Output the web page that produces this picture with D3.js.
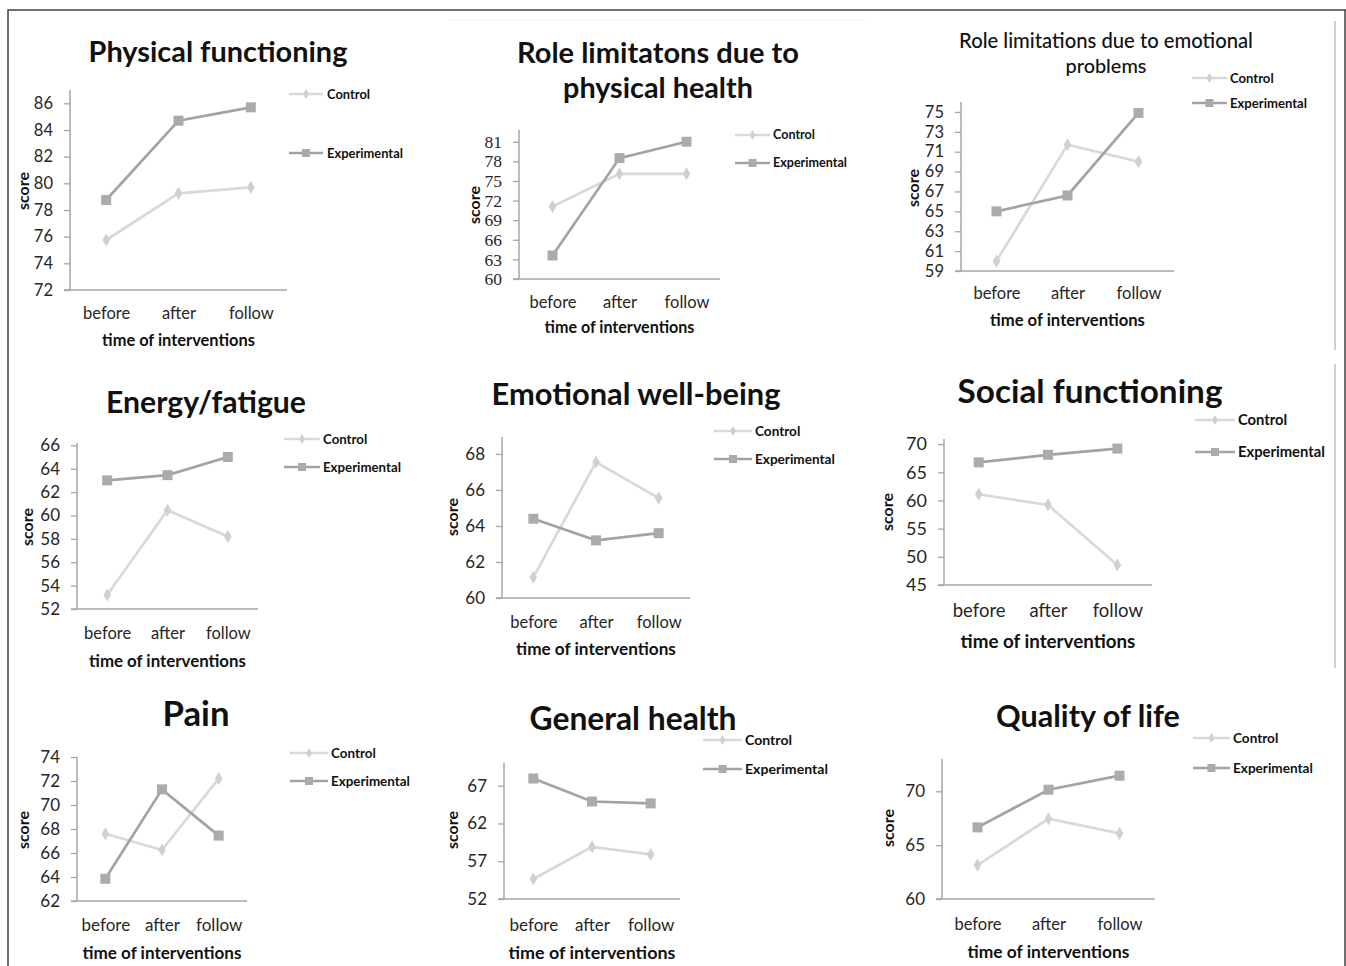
<!DOCTYPE html>
<html><head><meta charset="utf-8">
<script src="https://cdn.jsdelivr.net/npm/d3@7"></script>
<style>body{margin:0;background:#fff}svg{display:block}</style>
</head><body>
<svg id="c" width="1346" height="966"></svg>
<script>
// ---------------- DATA ----------------
const categories = ["before", "after", "follow"];
const seriesNames = ["Control", "Experimental"];
const xAxisTitle = "time of interventions";
const yAxisTitle = "score";

const controlPF = [75.75, 79.25, 79.7];
const expPF     = [78.75, 84.7, 85.7];
const controlRP = [71.1, 76.1, 76.1];
const expRP     = [63.6, 78.5, 81.0];
const controlRE = [60.0, 71.7, 70.0];
const expRE     = [65.0, 66.6, 74.9];
const controlEF = [53.2, 60.45, 58.2];
const expEF     = [63.0, 63.45, 65.0];
const controlEW = [61.15, 67.55, 65.55];
const expEW     = [64.4, 63.2, 63.6];
const controlSF = [61.1, 59.2, 48.55];
const expSF     = [66.75, 68.1, 69.2];
const controlPN = [67.6, 66.25, 72.2];
const expPN     = [63.85, 71.3, 67.45];
const controlGH = [54.65, 58.9, 57.9];
const expGH     = [67.95, 64.9, 64.65];
const controlQL = [63.15, 67.45, 66.1];
const expQL     = [66.65, 70.15, 71.45];

const ticksPF = [72, 74, 76, 78, 80, 82, 84, 86];
const ticksRP = [60, 63, 66, 69, 72, 75, 78, 81];
const ticksRE = [59, 61, 63, 65, 67, 69, 71, 73, 75];
const ticksEF = [52, 54, 56, 58, 60, 62, 64, 66];
const ticksEW = [60, 62, 64, 66, 68];
const ticksSF = [45, 50, 55, 60, 65, 70];
const ticksPN = [62, 64, 66, 68, 70, 72, 74];
const ticksGH = [52, 57, 62, 67];
const ticksQL = [60, 65, 70];

const titlePF = ["Physical functioning"];
const titleRP = ["Role limitatons due to", "physical health"];
const titleRE = ["Role limitations due to emotional", "problems"];
const titleEF = ["Energy/fatigue"];
const titleEW = ["Emotional well-being"];
const titleSF = ["Social functioning"];
const titlePN = ["Pain"];
const titleGH = ["General health"];
const titleQL = ["Quality of life"];

// ---------------- LAYOUT ----------------
const SANS = "Lato, 'Open Sans', sans-serif";
const SERIF = "'Liberation Serif', 'DejaVu Serif', serif";
const panels = [
  {title:titlePF, tx:218, ty:[62], tw:[259], tWeight:700, ctrl:controlPF, exp:expPF, ticks:ticksPF, domain:[72,87],
   x0:70, x1:287, yT:90, yB:290, tickFs:16.5, tickFont:SANS, catY:313, catFs:16.5, axY:340, axW:153, score:[23,191],
   leg:{x0:289, x1:323, yc:94, ye:153, tx:327, w:76}},
  {title:titleRP, tx:658, ty:[63,98], tw:[282,190], tWeight:700, ctrl:controlRP, exp:expRP, ticks:ticksRP, domain:[60,82.8],
   x0:519, x1:720, yT:130, yB:279, tickFs:17.5, tickFont:SERIF, catY:302, catFs:16.5, axY:327, axW:150, score:[474,205],
   leg:{x0:735, x1:770, yc:135, ye:163, tx:773, w:74}},
  {title:titleRE, tx:1106, ty:[48,73], tw:[294,81], tWeight:500, ctrl:controlRE, exp:expRE, ticks:ticksRE, domain:[59,76],
   x0:961, x1:1174, yT:102, yB:271, tickFs:16.5, tickFont:SANS, catY:293, catFs:16.5, axY:320, axW:155, score:[913,188],
   leg:{x0:1192, x1:1227, yc:78, ye:103, tx:1230, w:77}},
  {title:titleEF, tx:206, ty:[413], tw:[200], tWeight:700, ctrl:controlEF, exp:expEF, ticks:ticksEF, domain:[52,66.2],
   x0:77, x1:258, yT:443, yB:609, tickFs:17, tickFont:SANS, catY:633, catFs:16.5, axY:661, axW:157, score:[27,527],
   leg:{x0:284, x1:320, yc:439, ye:467, tx:323, w:78}},
  {title:titleEW, tx:636, ty:[405], tw:[289], tWeight:700, ctrl:controlEW, exp:expEW, ticks:ticksEW, domain:[60,68.94],
   x0:502, x1:690, yT:437, yB:598, tickFs:17, tickFont:SANS, catY:622, catFs:16.5, axY:649, axW:160, score:[452,517],
   leg:{x0:714, x1:752, yc:431, ye:459, tx:755, w:80}},
  {title:titleSF, tx:1090, ty:[403], tw:[265], tWeight:700, ctrl:controlSF, exp:expSF, ticks:ticksSF, domain:[45,70.9],
   x0:944, x1:1152, yT:439, yB:585, tickFs:18, tickFont:SANS, catY:611, catFs:18.5, axY:641, axW:175, score:[887,512],
   leg:{x0:1195, x1:1235, yc:420, ye:452, tx:1238, w:87}},
  {title:titlePN, tx:196, ty:[726], tw:[67], tWeight:700, ctrl:controlPN, exp:expPN, ticks:ticksPN, domain:[62,74],
   x0:77, x1:247, yT:757, yB:901, tickFs:17, tickFont:SANS, catY:925, catFs:17, axY:953, axW:159, score:[23,830],
   leg:{x0:290, x1:328, yc:753, ye:781, tx:331, w:79}},
  {title:titleGH, tx:633, ty:[730], tw:[207], tWeight:700, ctrl:controlGH, exp:expGH, ticks:ticksGH, domain:[52,70],
   x0:504, x1:680, yT:763, yB:899, tickFs:17, tickFont:SANS, catY:925, catFs:17, axY:953, axW:167, score:[452,830],
   leg:{x0:703, x1:742, yc:740, ye:769, tx:745, w:83}},
  {title:titleQL, tx:1088, ty:[727], tw:[184], tWeight:700, ctrl:controlQL, exp:expQL, ticks:ticksQL, domain:[60,73],
   x0:942, x1:1155, yT:759, yB:899, tickFs:17, tickFont:SANS, catY:924, catFs:16.5, axY:952, axW:162, score:[888,828],
   leg:{x0:1193, x1:1230, yc:738, ye:768, tx:1233, w:80}}
];

const COL_CTRL = "#d9d9d9", COL_CTRL_M = "#d0d0d0";
const COL_EXP = "#a3a3a3", COL_EXP_M = "#ababab";
const AXIS_COL = "#a6a6a6";
const LABEL_COL = "#262626";

const svg = d3.select("#c");

function fit(sel, target, base) {
  const len = sel.node().getComputedTextLength();
  if (len > 0) sel.attr("font-size", base * target / len);
}

// outer frame
const frame = svg.append("g").attr("stroke", "#404040").attr("stroke-width", 1.5).attr("fill", "none");
frame.append("path").attr("d", "M8,966 V10 H1346");
frame.append("line").attr("x1", 1345).attr("x2", 1345).attr("y1", 10).attr("y2", 966);
const pl = svg.append("g").attr("stroke", "#b0b0b0").attr("stroke-width", 1.2);
pl.append("line").attr("x1", 1335).attr("x2", 1335).attr("y1", 21).attr("y2", 350);
pl.append("line").attr("x1", 1335).attr("x2", 1335).attr("y1", 364).attr("y2", 668);
svg.append("line").attr("x1", 450).attr("x2", 865).attr("y1", 20).attr("y2", 20).attr("stroke", "#f0f0f0");

const diamond = d3.symbol().type(d3.symbolDiamond).size(50);
const square = d3.symbol().type(d3.symbolSquare).size(100);
const diamondL = d3.symbol().type(d3.symbolDiamond).size(30);
const squareL = d3.symbol().type(d3.symbolSquare).size(64);

panels.forEach(p => {
  const g = svg.append("g");
  const x = d3.scalePoint().domain(categories).range([p.x0, p.x1]).padding(0.5);
  const y = d3.scaleLinear().domain(p.domain).range([p.yB, p.yT]);

  // title
  p.title.forEach((t, i) => {
    const tt = g.append("text").attr("x", p.tx).attr("y", p.ty[i]).attr("text-anchor", "middle")
      .attr("font-family", SANS).attr("font-weight", p.tWeight).attr("fill", "#111")
      .attr("font-size", 26).text(t);
    fit(tt, p.tw[i], 26);
  });

  // y axis
  const ya = g.append("g").attr("transform", `translate(${p.x0},0)`)
    .call(d3.axisLeft(y).tickValues(p.ticks).tickSize(6).tickSizeOuter(0).tickPadding(11));
  ya.select(".domain").remove();
  ya.selectAll(".tick line").attr("stroke", AXIS_COL).attr("stroke-width", 1.3);
  ya.selectAll(".tick text").attr("font-family", p.tickFont).attr("font-size", p.tickFs).attr("fill", LABEL_COL);
  g.append("line").attr("x1", p.x0).attr("x2", p.x0).attr("y1", y.range()[1]).attr("y2", y.range()[0])
    .attr("stroke", AXIS_COL).attr("stroke-width", 1.5);

  // x axis
  const xa = g.append("g").attr("transform", `translate(0,${p.yB})`)
    .call(d3.axisBottom(x).tickSize(0).tickPadding(0));
  xa.select(".domain").remove();
  xa.selectAll(".tick text").attr("y", p.catY - p.yB).attr("dy", "0.35em")
    .attr("font-family", SANS).attr("font-size", p.catFs).attr("fill", LABEL_COL);
  g.append("line").attr("x1", p.x0 - 6).attr("x2", p.x1).attr("y1", p.yB).attr("y2", p.yB)
    .attr("stroke", AXIS_COL).attr("stroke-width", 1.5);

  // axis titles
  const at = g.append("text").attr("x", (p.x0 + p.x1) / 2).attr("y", p.axY).attr("dy", "0.35em")
    .attr("text-anchor", "middle").attr("font-family", SANS).attr("font-weight", 700)
    .attr("font-size", 15).attr("fill", "#111").text(xAxisTitle);
  fit(at, p.axW, 15);
  const st = g.append("text").attr("transform", `translate(${p.score[0]},${p.score[1]}) rotate(-90)`)
    .attr("dy", "0.35em").attr("text-anchor", "middle").attr("font-family", SANS)
    .attr("font-weight", 700).attr("font-size", 15).attr("fill", "#111").text(yAxisTitle);
  fit(st, 38, 15);

  // lines
  const line = d3.line().x((d, i) => x(categories[i])).y(d => y(d));
  g.append("path").datum(p.ctrl).attr("d", line).attr("fill", "none")
    .attr("stroke", COL_CTRL).attr("stroke-width", 2.7);
  g.append("path").datum(p.exp).attr("d", line).attr("fill", "none")
    .attr("stroke", COL_EXP).attr("stroke-width", 2.7);
  g.selectAll(".mc").data(p.ctrl).join("path").attr("class", "mc")
    .attr("transform", (d, i) => `translate(${x(categories[i])},${y(d)})`)
    .attr("d", diamond).attr("fill", COL_CTRL_M);
  g.selectAll(".me").data(p.exp).join("path").attr("class", "me")
    .attr("transform", (d, i) => `translate(${x(categories[i])},${y(d)})`)
    .attr("d", square).attr("fill", COL_EXP_M);

  // legend
  const L = p.leg;
  const legRows = [
    {name: seriesNames[0], y: L.yc, col: COL_CTRL, mcol: COL_CTRL_M, sym: diamondL},
    {name: seriesNames[1], y: L.ye, col: COL_EXP, mcol: COL_EXP_M, sym: squareL}
  ];
  const fsRef = [];
  legRows.forEach((r, i) => {
    g.append("line").attr("x1", L.x0).attr("x2", L.x1).attr("y1", r.y).attr("y2", r.y)
      .attr("stroke", r.col).attr("stroke-width", 2.4);
    g.append("path").attr("transform", `translate(${(L.x0 + L.x1) / 2},${r.y})`).attr("d", r.sym).attr("fill", r.mcol);
    const t = g.append("text").attr("x", L.tx).attr("y", r.y).attr("dy", "0.35em")
      .attr("font-family", SANS).attr("font-weight", 700).attr("font-size", 13).attr("fill", "#111").text(r.name);
    fsRef.push(t);
  });
  fit(fsRef[1], L.w, 13);
  fsRef[0].attr("font-size", fsRef[1].attr("font-size"));
});
</script>
</body></html>
